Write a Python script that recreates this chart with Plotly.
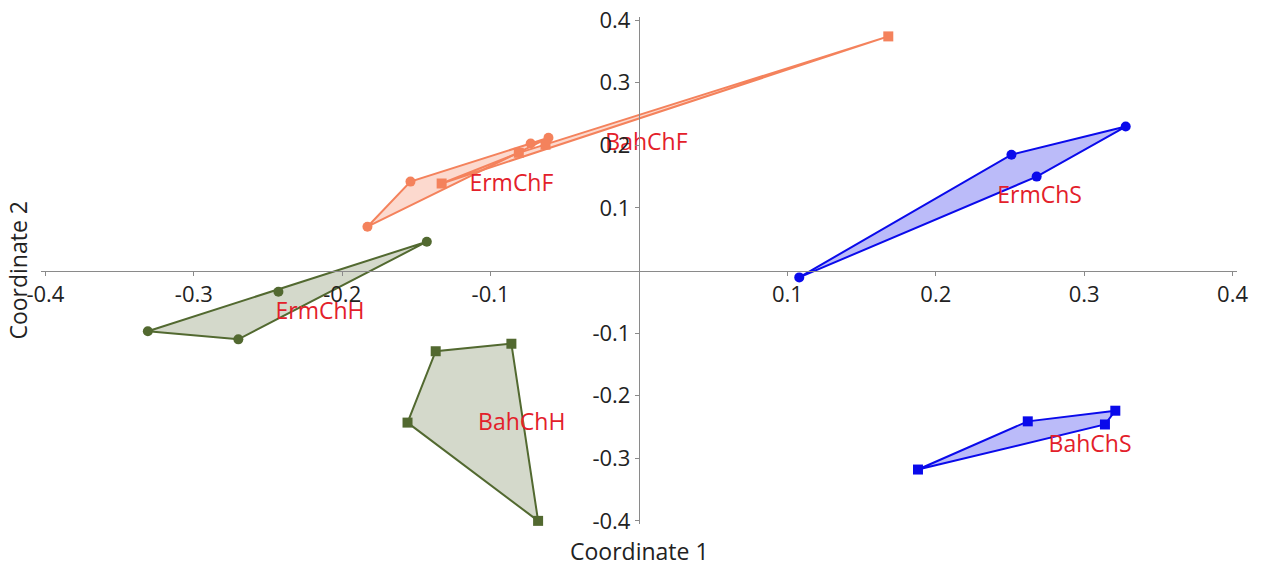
import plotly.graph_objects as go

# ---- data (Coordinate 1, Coordinate 2) ----
erm_chf_x = [-0.183, -0.154, -0.073, -0.061]
erm_chf_y = [0.070, 0.142, 0.203, 0.212]
bah_chf_x = [-0.133, -0.081, -0.063, 0.168]
bah_chf_y = [0.139, 0.188, 0.201, 0.374]
erm_chh_x = [-0.143, -0.243, -0.331, -0.270]
erm_chh_y = [0.046, -0.034, -0.097, -0.110]
bah_chh_x = [-0.137, -0.086, -0.156, -0.068]
bah_chh_y = [-0.129, -0.117, -0.243, -0.400]
erm_chs_x = [0.108, 0.251, 0.268, 0.328]
erm_chs_y = [-0.011, 0.185, 0.150, 0.230]
bah_chs_x = [0.188, 0.262, 0.321, 0.314]
bah_chs_y = [-0.318, -0.241, -0.224, -0.246]

label_names = ["BahChF", "ErmChF", "ErmChS", "ErmChH", "BahChH", "BahChS"]
label_x = [0.005, -0.086, 0.270, -0.215, -0.079, 0.304]
label_y = [0.201, 0.136, 0.117, -0.069, -0.246, -0.280]

tick_vals = [-0.4, -0.3, -0.2, -0.1, 0.1, 0.2, 0.3, 0.4]
tick_text = ["-0.4", "-0.3", "-0.2", "-0.1", "0.1", "0.2", "0.3", "0.4"]

FONT = "Open Sans, Noto Sans, sans-serif"
ORANGE = "rgb(244,130,92)"
ORANGE_FILL = "rgba(244,130,92,0.30)"
GREEN = "rgb(82,105,48)"
GREEN_FILL = "rgba(82,105,48,0.25)"
BLUE = "rgb(10,10,235)"
BLUE_FILL = "rgba(30,30,235,0.30)"


def hull(xs, ys):
    pts = sorted(set(zip(xs, ys)))
    if len(pts) <= 2:
        return pts

    def cross(o, a, b):
        return (a[0] - o[0]) * (b[1] - o[1]) - (a[1] - o[1]) * (b[0] - o[0])

    lower, upper = [], []
    for p in pts:
        while len(lower) >= 2 and cross(lower[-2], lower[-1], p) <= 0:
            lower.pop()
        lower.append(p)
    for p in reversed(pts):
        while len(upper) >= 2 and cross(upper[-2], upper[-1], p) <= 0:
            upper.pop()
        upper.append(p)
    return lower[:-1] + upper[:-1]


groups = [
    (erm_chf_x, erm_chf_y, ORANGE, ORANGE_FILL, "circle"),
    (bah_chf_x, bah_chf_y, ORANGE, ORANGE_FILL, "square"),
    (erm_chh_x, erm_chh_y, GREEN, GREEN_FILL, "circle"),
    (bah_chh_x, bah_chh_y, GREEN, GREEN_FILL, "square"),
    (erm_chs_x, erm_chs_y, BLUE, BLUE_FILL, "circle"),
    (bah_chs_x, bah_chs_y, BLUE, BLUE_FILL, "square"),
]

fig = go.Figure()
for xs, ys, col, fcol, sym in groups:
    h = hull(xs, ys)
    hx = [p[0] for p in h] + [h[0][0]]
    hy = [p[1] for p in h] + [h[0][1]]
    fig.add_trace(go.Scatter(x=hx, y=hy, mode="lines", fill="toself",
                             fillcolor=fcol, line=dict(color=col, width=2),
                             hoverinfo="skip", showlegend=False))
for xs, ys, col, fcol, sym in groups:
    fig.add_trace(go.Scatter(x=xs, y=ys, mode="markers", cliponaxis=False,
                             marker=dict(symbol=sym, size=10, color=col),
                             showlegend=False))

fig.add_trace(go.Scatter(x=label_x, y=label_y, mode="text", text=label_names,
                         textfont=dict(color="#E3202A", size=23, family=FONT),
                         cliponaxis=False, showlegend=False, hoverinfo="skip"))

axis_common = dict(
    tickvals=tick_vals, ticktext=tick_text, showgrid=False, zeroline=False,
    showline=True, linecolor="#8a8a8a", linewidth=1.3,
    ticks="outside", ticklen=4, tickcolor="#8a8a8a",
    tickfont=dict(size=22, color="#222222", family=FONT),
    anchor="free", position=0.5, automargin=False,
)

fig.update_layout(
    width=1261, height=571,
    margin=dict(l=41, r=24, t=17, b=47),
    paper_bgcolor="white", plot_bgcolor="white",
    xaxis=dict(range=[-0.403, 0.403], **axis_common),
    yaxis=dict(range=[-0.405, 0.405], **axis_common),
    annotations=[
        dict(text="Coordinate 1", xref="paper", yref="paper", x=0.5, y=-0.018,
             xanchor="center", yanchor="top", showarrow=False,
             font=dict(size=23, color="#222222", family=FONT)),
        dict(text="Coordinate 2", xref="paper", yref="paper", x=-0.02, y=0.5,
             xanchor="center", yanchor="middle", showarrow=False, textangle=-90,
             font=dict(size=23, color="#222222", family=FONT)),
    ],
)

fig.write_html("out.html")
